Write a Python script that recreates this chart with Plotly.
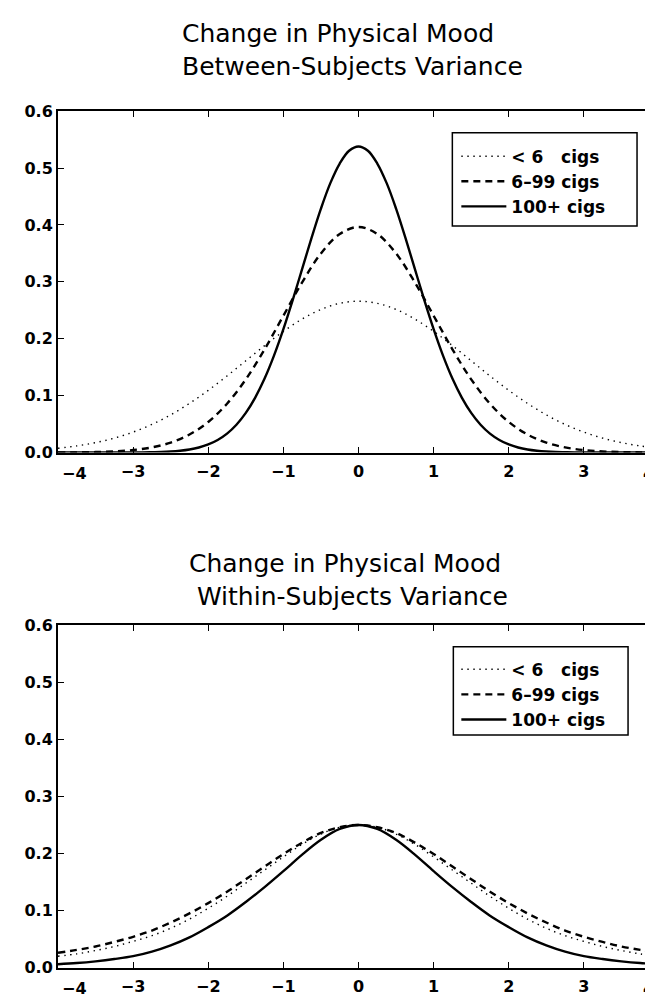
import plotly.graph_objects as go

# x grids (standard units)
x_vals = [-4.0, -3.75, -3.5, -3.25, -3.0, -2.75, -2.5, -2.25, -2.0, -1.75, -1.5, -1.25, -1.0, -0.75, -0.5, -0.25,
          0.0, 0.25, 0.5, 0.75, 1.0, 1.25, 1.5, 1.75, 2.0, 2.25, 2.5, 2.75, 3.0, 3.25, 3.5, 3.75, 4.0]
x_fine = [-4.0, -3.875, -3.75, -3.625, -3.5, -3.375, -3.25, -3.125, -3.0, -2.875, -2.75, -2.625, -2.5, -2.375,
          -2.25, -2.125, -2.0, -1.875, -1.75, -1.625, -1.5, -1.375, -1.25, -1.125, -1.0, -0.875, -0.75, -0.625,
          -0.5, -0.375, -0.25, -0.125, 0.0, 0.125, 0.25, 0.375, 0.5, 0.625, 0.75, 0.875, 1.0, 1.125, 1.25, 1.375,
          1.5, 1.625, 1.75, 1.875, 2.0, 2.125, 2.25, 2.375, 2.5, 2.625, 2.75, 2.875, 3.0, 3.125, 3.25, 3.375, 3.5,
          3.625, 3.75, 3.875, 4.0]

legend_labels = ["&lt; 6&nbsp;&nbsp;&nbsp;cigs", "6–99 cigs", "100+ cigs"]

# Between-subjects variance panel
between_lt6 = [0.0076, 0.0117, 0.0175, 0.0254, 0.0360, 0.0495, 0.0663, 0.0864, 0.1094, 0.1347, 0.1613, 0.1880, 0.2130,
               0.2347, 0.2516, 0.2623, 0.2660, 0.2623, 0.2516, 0.2347, 0.2130, 0.1880, 0.1613, 0.1347, 0.1094, 0.0864,
               0.0663, 0.0495, 0.0360, 0.0254, 0.0175, 0.0117, 0.0076]
between_6_99 = [0.0001, 0.0004, 0.0009, 0.0020, 0.0044, 0.0091, 0.0175, 0.0317, 0.0538, 0.0859, 0.1287, 0.1815, 0.2405,
                0.2992, 0.3500, 0.3842, 0.3965, 0.3842, 0.3500, 0.2992, 0.2405, 0.1815, 0.1287, 0.0859, 0.0538, 0.0317,
                0.0175, 0.0091, 0.0044, 0.0020, 0.0009, 0.0004, 0.0001]
between_100 = [0.0000, 0.0000, 0.0000, 0.0000, 0.0000, 0.0000, 0.0000, 0.0001, 0.0002, 0.0003, 0.0006, 0.0010, 0.0018,
               0.0032, 0.0054, 0.0089, 0.0142, 0.0221, 0.0333, 0.0489, 0.0697, 0.0966, 0.1301, 0.1704, 0.2169, 0.2684,
               0.3228, 0.3773, 0.4287, 0.4735, 0.5080, 0.5304, 0.5380, 0.5304, 0.5080, 0.4735, 0.4287, 0.3773, 0.3228,
               0.2684, 0.2169, 0.1704, 0.1301, 0.0966, 0.0697, 0.0489, 0.0333, 0.0221, 0.0142, 0.0089, 0.0054, 0.0032,
               0.0018, 0.0010, 0.0006, 0.0003, 0.0002, 0.0001, 0.0000, 0.0000, 0.0000, 0.0000, 0.0000, 0.0000, 0.0000]

# Within-subjects variance panel
within_lt6 = [0.020, 0.024, 0.030, 0.037, 0.046, 0.056, 0.069, 0.085, 0.104, 0.125, 0.148, 0.171, 0.194, 0.216, 0.234,
              0.246, 0.250, 0.246, 0.234, 0.216, 0.194, 0.171, 0.148, 0.125, 0.104, 0.085, 0.069, 0.056, 0.046, 0.037,
              0.030, 0.024, 0.020]
within_6_99 = [0.026, 0.031, 0.037, 0.045, 0.054, 0.065, 0.079, 0.095, 0.113, 0.133, 0.155, 0.177, 0.199, 0.219, 0.236,
               0.246, 0.250, 0.246, 0.236, 0.219, 0.199, 0.177, 0.155, 0.133, 0.113, 0.095, 0.079, 0.065, 0.054, 0.045,
               0.037, 0.031, 0.026]
within_100 = [0.006, 0.008, 0.011, 0.015, 0.020, 0.028, 0.039, 0.053, 0.071, 0.091, 0.115, 0.141, 0.169, 0.198, 0.224,
              0.243, 0.250, 0.243, 0.224, 0.198, 0.169, 0.141, 0.115, 0.091, 0.071, 0.053, 0.039, 0.028, 0.020, 0.015,
              0.011, 0.008, 0.006]

y_ticks = [0.0, 0.1, 0.2, 0.3, 0.4, 0.5, 0.6]
y_tick_text = ["0.0", "0.1", "0.2", "0.3", "0.4", "0.5", "0.6"]
x_ticks = [-4, -3, -2, -1, 0, 1, 2, 3, 4]
# end labels are drawn separately (offset inward like the original)
x_tick_text = ["", "−3", "−2", "−1", "0", "1", "2", "3", ""]
x_end_labels = [(-4, "−4"), (4, "4")]

titles = ["Change in Physical Mood&nbsp;&nbsp;<br>Between-Subjects Variance",
          "Change in Physical Mood&nbsp;&nbsp;<br>&nbsp;Within-Subjects Variance"]

styles = [dict(color="black", width=1.4, dash="1.4px,4.6px"),
          dict(color="black", width=2.4, dash="7px,5px"),
          dict(color="black", width=2.4, dash="solid")]

fig = go.Figure()
panels = [("x", "y", "legend", [(x_vals, between_lt6), (x_vals, between_6_99), (x_fine, between_100)]),
          ("x2", "y2", "legend2", [(x_vals, within_lt6), (x_vals, within_6_99), (x_vals, within_100)])]
for xa, ya, lg, data in panels:
    for i, (xs, ys) in enumerate(data):
        fig.add_trace(go.Scatter(x=xs, y=ys, mode="lines",
                                 line=dict(shape="spline", smoothing=1.0, **styles[i]),
                                 name=legend_labels[i], xaxis=xa, yaxis=ya, legend=lg))

W, H = 653, 1001
L, R = 50, 1


def py(p):
    return 1 - p / H


def px(p):
    return (p - L) / (W - L - R)


tick_font = dict(family="DejaVu Sans, sans-serif", size=16, color="black", weight="bold")
axis_common = dict(showline=True, linecolor="black", linewidth=2, mirror="ticks", ticks="inside", ticklen=6,
                   tickwidth=1.3, tickcolor="black", showgrid=False, zeroline=False, tickfont=tick_font)
xaxis_common = dict(domain=[0, 1], range=[-4, 4], tickvals=x_ticks, ticktext=x_tick_text,
                    ticklabelstandoff=3, **axis_common)
yaxis_common = dict(range=[0, 0.6], tickvals=y_ticks, ticktext=y_tick_text, **axis_common)

legend_font = dict(family="DejaVu Sans, sans-serif", size=17, color="black", weight="bold")
title_font = dict(family="DejaVu Sans, sans-serif", size=25, color="black")

annotations = [
    dict(text=titles[0], x=px(345), y=py(0), xref="paper", yref="paper", xanchor="center", yanchor="top",
         showarrow=False, align="left", font=title_font),
    dict(text=titles[1], x=px(345), y=py(540), xref="paper", yref="paper", xanchor="center", yanchor="top",
         showarrow=False, align="left", font=title_font),
]
for xa, ya in [("x", "y"), ("x2", "y2")]:
    for xv, lab in x_end_labels:
        annotations.append(dict(text=lab, x=xv, y=0, xref=xa, yref=ya, showarrow=False,
                                xanchor="left" if xv < 0 else "right", xshift=2 if xv < 0 else -3,
                                yanchor="top", yshift=-9, font=tick_font))

fig.update_layout(
    width=W, height=H,
    margin=dict(l=L, r=R, t=0, b=0),
    paper_bgcolor="white", plot_bgcolor="white",
    showlegend=True,
    xaxis=dict(anchor="y", **xaxis_common),
    yaxis=dict(domain=[py(444), py(96)], anchor="x", **yaxis_common),
    xaxis2=dict(anchor="y2", **xaxis_common),
    yaxis2=dict(domain=[py(969), py(620)], anchor="x2", **yaxis_common),
    legend=dict(x=px(449), y=py(124), xanchor="left", yanchor="top", bgcolor="rgba(0,0,0,0)",
                borderwidth=0, itemwidth=45, font=legend_font, tracegroupgap=0),
    legend2=dict(x=px(449), y=py(647), xanchor="left", yanchor="top", bgcolor="rgba(0,0,0,0)",
                 borderwidth=0, itemwidth=45, font=legend_font, tracegroupgap=0),
    shapes=[
        dict(type="rect", xref="paper", yref="paper", x0=px(445), x1=px(630), y0=py(213), y1=py(118),
             line=dict(color="black", width=1.5), fillcolor="white", layer="above"),
        dict(type="rect", xref="paper", yref="paper", x0=px(446), x1=px(621), y0=py(732), y1=py(642),
             line=dict(color="black", width=1.5), fillcolor="white", layer="above"),
    ],
    annotations=annotations,
)

fig.write_html("out.html")
